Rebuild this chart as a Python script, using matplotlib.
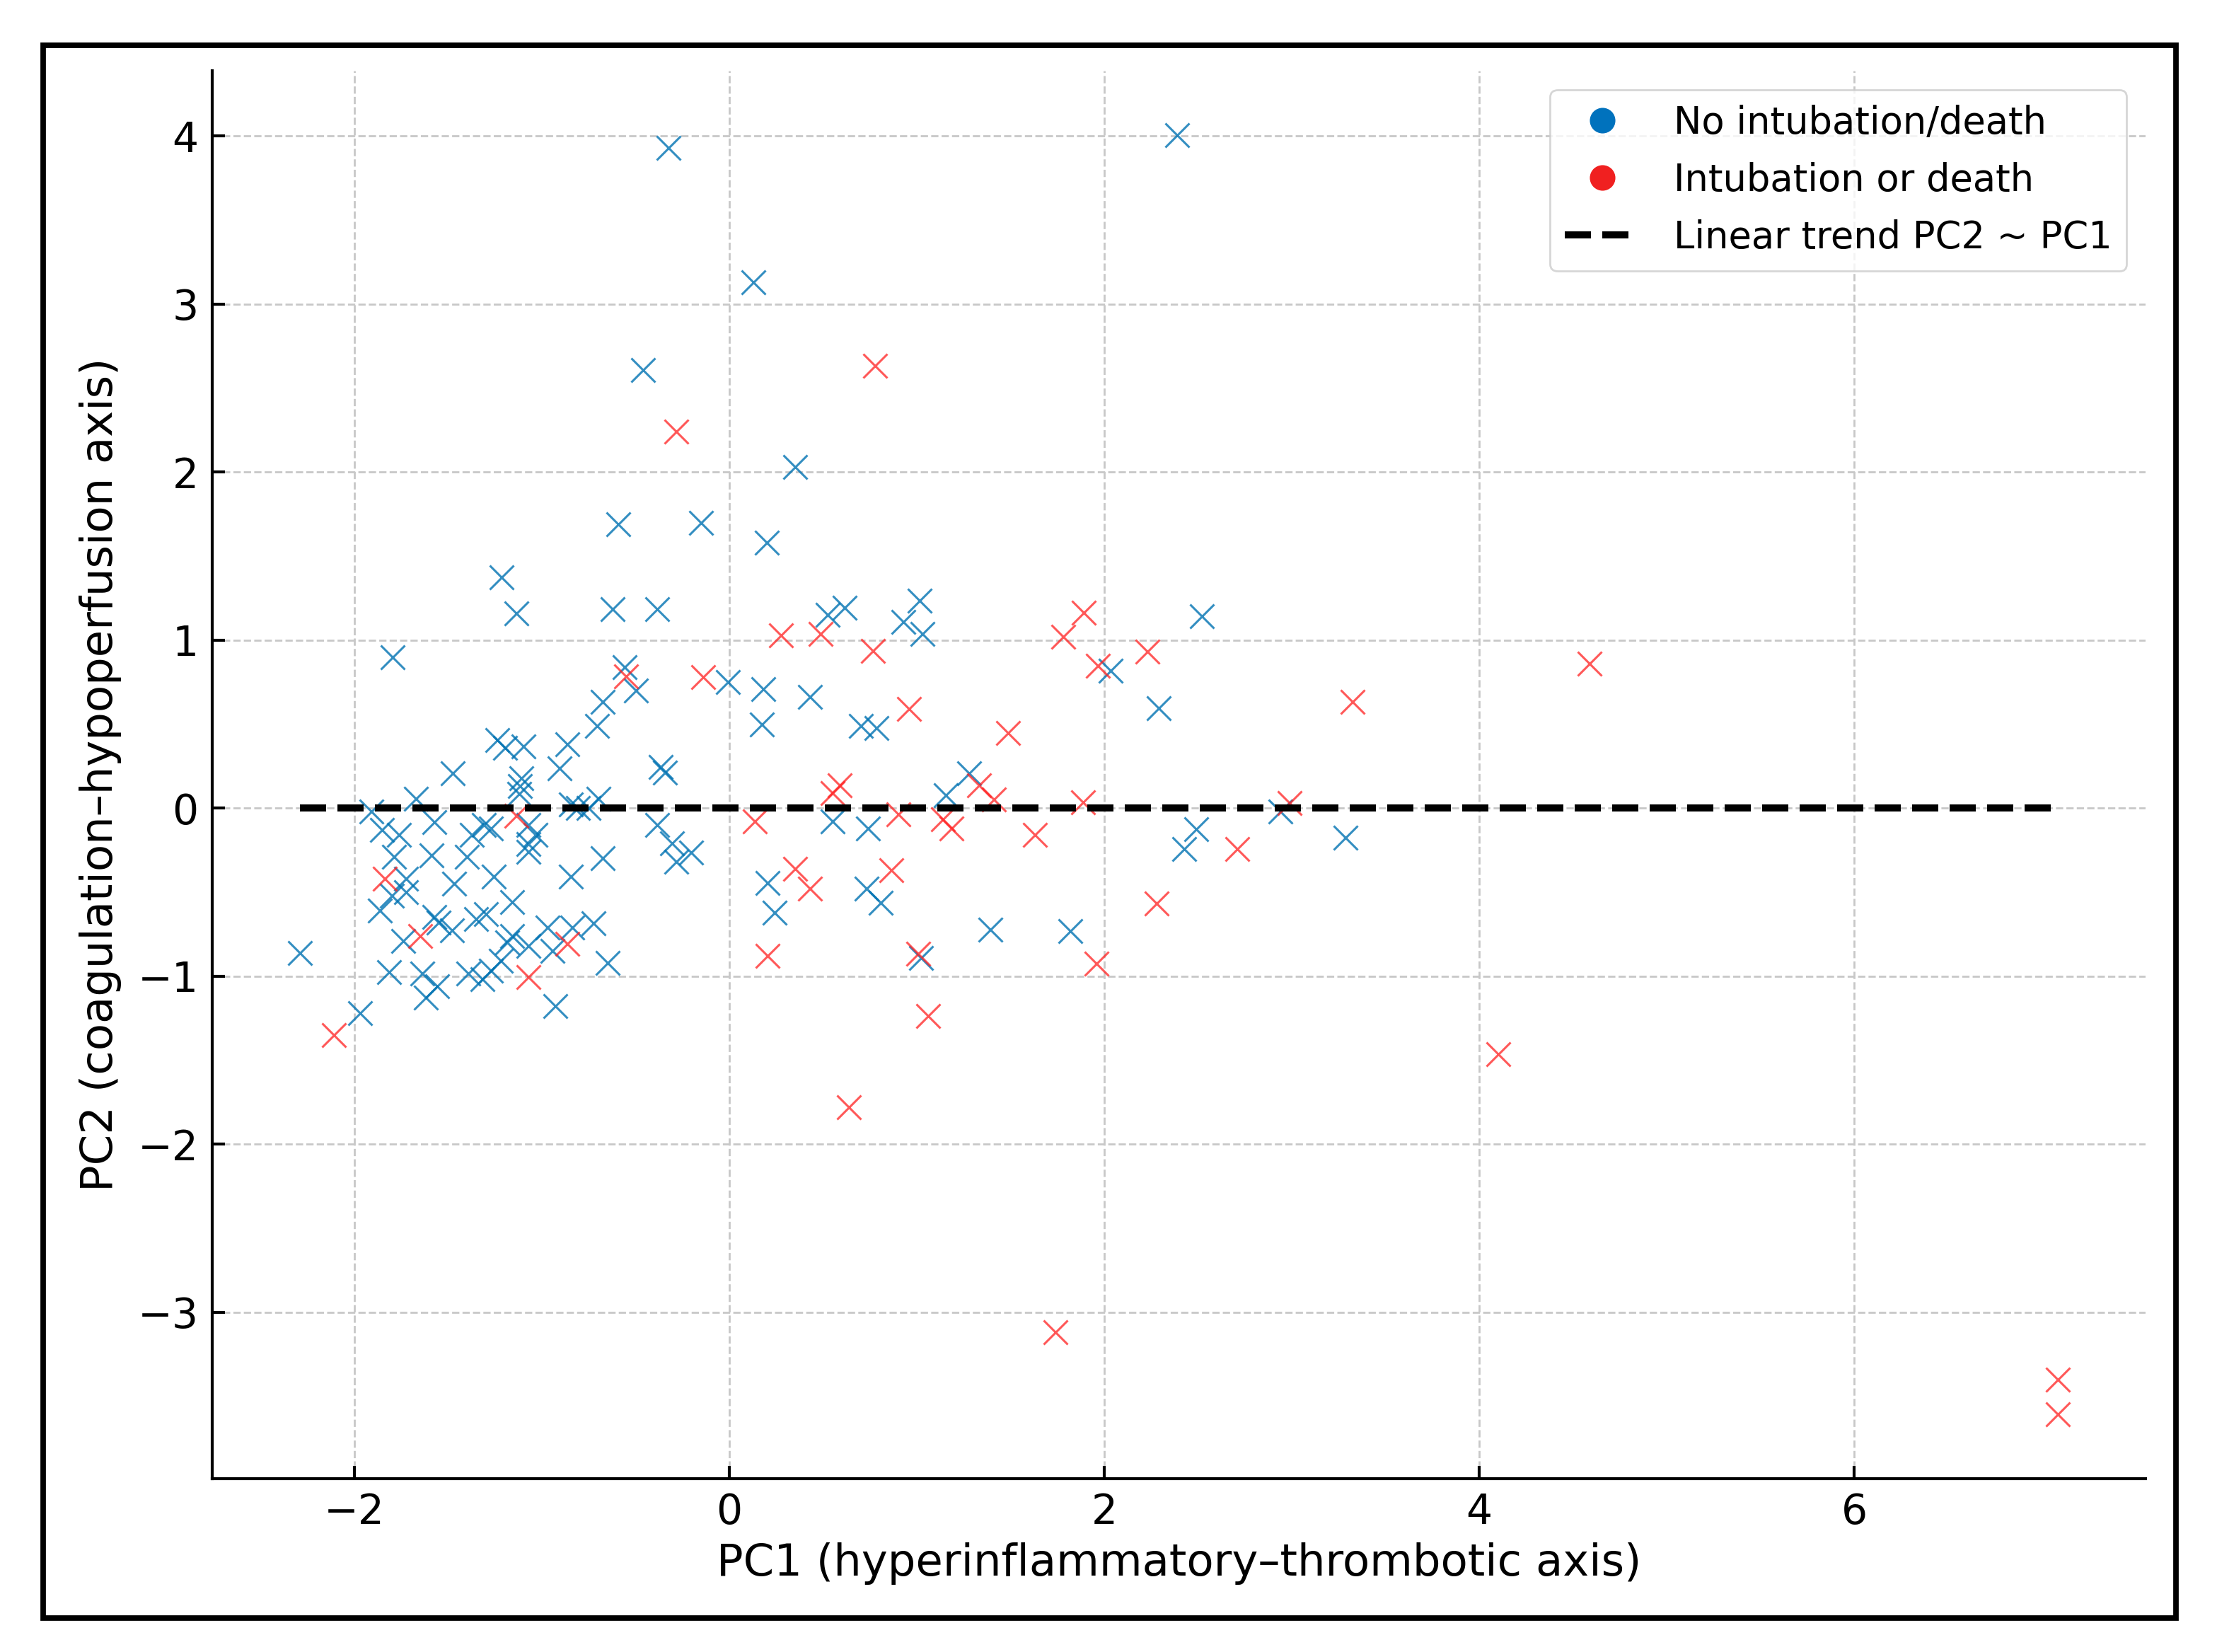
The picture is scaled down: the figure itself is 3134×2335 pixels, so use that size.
import numpy as np
import matplotlib.pyplot as plt
from matplotlib.lines import Line2D
from matplotlib.patches import Rectangle

# PC scores, no intubation/death
blue_x = [-1.217, -1.136, -1.795, -1.236, -1.198, -1.098, -1.475, -1.11, -1.117, -1.12,
          -1.67, -1.908, -1.575, -1.852, -1.764, -1.789, -1.588, -1.40, -1.374, -1.31,
          -1.27, -1.073, -1.073, -1.035, -1.07, -1.726, -1.726, -1.80, -1.864, -1.469,
          -1.255, -1.16, -1.575, -1.55, -1.48, -1.74, -1.35, -1.30, -1.186, -1.16,
          -1.07, -1.814, -1.638, -1.557, -1.62, -1.393, -1.318, -1.27, -1.22, -1.97,
          -2.29,
          -0.593, -0.153, -0.624, -0.386, -0.56, -0.499, -0.675, -0.706, -0.009, -0.863,
          -0.907, -0.367, -0.342, -0.844, -0.806, -0.75, -0.70, -0.386, -0.304, -0.204,
          -0.285, -0.675, -0.844, -0.97, -0.838, -0.725, -0.945, -0.65, -0.93,
          -0.324, 2.389, 0.128, -0.46,
          0.349, 0.198, 0.525, 0.613, 1.015, 0.927, 1.028, 0.18, 0.173, 0.431,
          0.70, 0.783, 1.279, 1.153, 0.55, 0.739, 0.205, 0.242, 0.732, 0.808,
          1.021, 1.392,
          2.52, 2.034, 2.291, 2.49, 2.426, 2.938, 1.82, 3.286]
blue_y = [1.372, 1.156, 0.897, 0.404, 0.357, 0.367, 0.207, 0.179, 0.132, 0.085,
          0.056, -0.019, -0.085, -0.13, -0.16, -0.29, -0.28, -0.29, -0.16, -0.10,
          -0.12, -0.10, -0.216, -0.16, -0.26, -0.42, -0.50, -0.52, -0.61, -0.45,
          -0.41, -0.56, -0.65, -0.68, -0.73, -0.79, -0.66, -0.63, -0.80, -0.76,
          -0.82, -0.977, -0.987, -1.06, -1.13, -0.987, -1.02, -0.968, -0.91, -1.22,
          -0.865,
          1.688, 1.699, 1.184, 1.184, 0.84, 0.70, 0.63, 0.49, 0.748, 0.38,
          0.237, 0.243, 0.21, 0.022, 0.0, 0.0, 0.055, -0.10, -0.21, -0.265,
          -0.32, -0.30, -0.41, -0.71, -0.71, -0.686, -0.85, -0.92, -1.18,
          3.93, 4.005, 3.128, 2.605,
          2.03, 1.58, 1.149, 1.19, 1.234, 1.106, 1.034, 0.706, 0.497, 0.663,
          0.49, 0.477, 0.206, 0.077, -0.08, -0.123, -0.446, -0.623, -0.48, -0.566,
          -0.894, -0.723,
          1.142, 0.817, 0.592, -0.125, -0.245, -0.02, -0.733, -0.177]

# PC scores, intubation or death
red_x = [-2.11, -1.839, -1.65, -1.136, -1.073, -0.285, -0.553, -0.141, -0.863, 0.776,
         0.274, 0.487, 0.764, 0.959, 1.485, 1.33, 1.41, 0.55, 0.587, 0.136,
         0.902, 1.14, 1.185, 0.349, 0.431, 0.864, 0.205, 1.009, 1.059, 0.638,
         1.889, 1.78, 2.229, 1.965, 1.886, 1.629, 2.71, 2.989, 2.279, 1.959,
         1.741, 4.1, 4.589, 3.323, 7.084, 7.084]
red_y = [-1.35, -0.423, -0.76, -0.047, -1.006, 2.24, 0.785, 0.779, -0.81, 2.63,
         1.026, 1.034, 0.934, 0.591, 0.447, 0.134, 0.05, 0.09, 0.134, -0.08,
         -0.037, -0.066, -0.123, -0.36, -0.48, -0.371, -0.88, -0.866, -1.237, -1.78,
         1.163, 1.017, 0.93, 0.847, 0.035, -0.162, -0.245, 0.03, -0.567, -0.928,
         -3.12, -1.467, 0.86, 0.632, -3.40, -3.61]

# linear fit PC2 ~ PC1 (PC scores are uncorrelated)
trend_slope = 0.0
trend_intercept = 0.0

plt.rcParams['font.family'] = 'DejaVu Sans'

fig = plt.figure(figsize=(15.67, 11.675), dpi=200)
ax = fig.add_axes([0.0957, 0.105, 0.872, 0.852])

ax.scatter(blue_x, blue_y, marker='x', s=150, linewidths=1.1, color='#0072B2', alpha=0.8, zorder=3)
ax.scatter(red_x, red_y, marker='x', s=150, linewidths=1.1, color='#FF2020', alpha=0.75, zorder=3)

all_x = np.array(blue_x + red_x)
xs = np.array([all_x.min(), all_x.max()])
ax.plot(xs, trend_intercept + trend_slope * xs, color='black', linestyle='--', linewidth=3.6, zorder=4)

ax.grid(True, linestyle='--', linewidth=1.0, color='#c8c8c8')
ax.set_axisbelow(True)
ax.spines['top'].set_visible(False)
ax.spines['right'].set_visible(False)
for sp in ['left', 'bottom']:
    ax.spines[sp].set_linewidth(1.5)
ax.tick_params(direction='in', length=6.5, width=1.5, labelsize=21, pad=7)
ax.set_xticks([-2, 0, 2, 4, 6])
ax.set_yticks([-3, -2, -1, 0, 1, 2, 3, 4])

ax.set_xlabel("PC1 (hyperinflammatory\u2013thrombotic axis)", fontsize=22.5, labelpad=5)
ax.set_ylabel("PC2 (coagulation\u2013hypoperfusion axis)", fontsize=22.5, labelpad=8)

handles = [
    Line2D([], [], linestyle='none', marker='o', markersize=12, color='#0072BD'),
    Line2D([], [], linestyle='none', marker='o', markersize=12, color='#F02020'),
    Line2D([], [], color='black', linestyle='--', linewidth=3.6),
]
labels = ["No intubation/death", "Intubation or death", "Linear trend PC2 ~ PC1"]
ax.legend(handles, labels, loc='upper right', fontsize=19, frameon=True,
          framealpha=0.8, edgecolor='#cccccc', borderaxespad=0.5,
          handletextpad=0.9, labelspacing=0.55)

# outer frame
fig.patches.append(Rectangle((0.0195, 0.0205), 0.962, 0.952, transform=fig.transFigure,
                             fill=False, edgecolor='black', linewidth=2.8))

plt.savefig("out.png", dpi=200)
